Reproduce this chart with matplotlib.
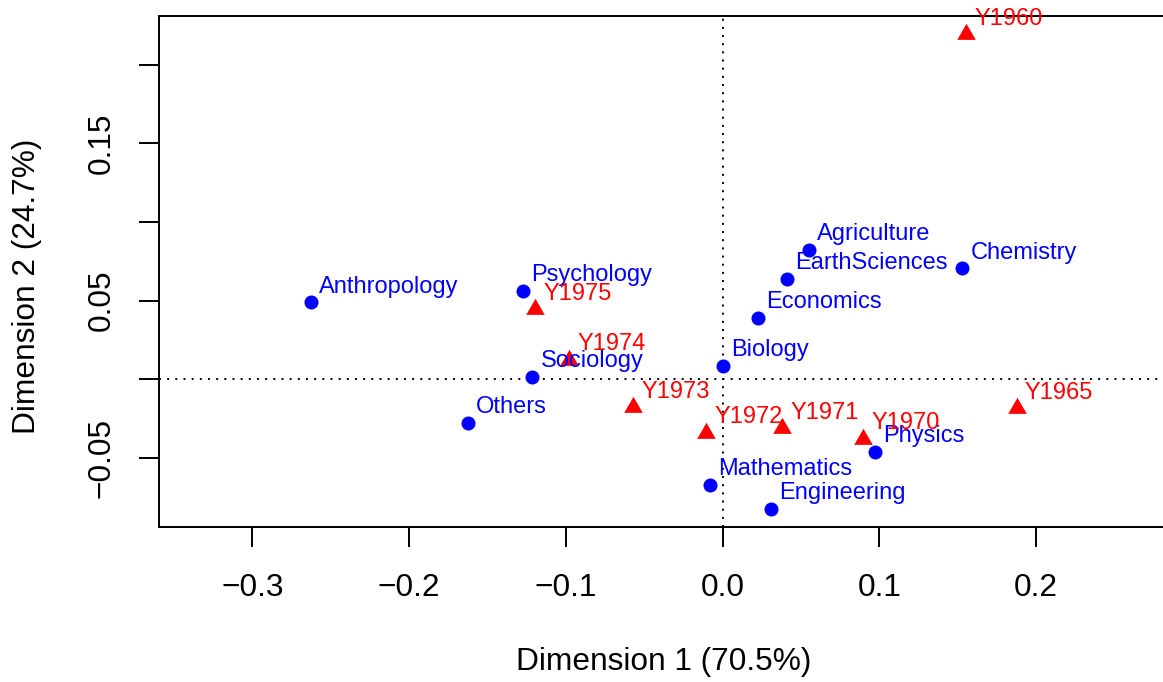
import matplotlib
matplotlib.use("Agg")
import matplotlib.pyplot as plt
import numpy as np

# Column (discipline) coordinates
col_names = ["Anthropology", "Psychology", "Sociology", "Others", "Biology",
             "Economics", "EarthSciences", "Agriculture", "Chemistry",
             "Physics", "Mathematics", "Engineering"]
col_x = [-0.2626, -0.1275, -0.1213, -0.1624, 0.0006, 0.0226, 0.0411, 0.0550,
         0.1530, 0.0972, -0.0077, 0.0309]
col_y = [0.0489, 0.0560, 0.0015, -0.0278, 0.0085, 0.0389, 0.0639, 0.0822,
         0.0705, -0.0462, -0.0675, -0.0827]

# Row (year) coordinates
row_names = ["Y1960", "Y1965", "Y1970", "Y1971", "Y1972", "Y1973", "Y1974", "Y1975"]
row_x = [0.1554, 0.1878, 0.0897, 0.0382, -0.0105, -0.0568, -0.0977, -0.1194]
row_y = [0.2194, -0.0186, -0.0378, -0.0314, -0.0340, -0.0180, 0.0124, 0.0444]

x_ticks = [-0.3, -0.2, -0.1, 0.0, 0.1, 0.2]
x_ticklabels = ["\u22120.3", "\u22120.2", "\u22120.1", "0.0", "0.1", "0.2"]
y_ticks = [-0.05, 0.0, 0.05, 0.10, 0.15, 0.20]
y_ticklabels = ["\u22120.05", "", "0.05", "", "0.15", ""]

xlab = "Dimension 1 (70.5%)"
ylab = "Dimension 2 (24.7%)"

plt.rcParams['font.family'] = ['Liberation Sans', 'DejaVu Sans']

W, H = 1163, 682
fig = plt.figure(figsize=(W / 100, H / 100), dpi=100)
ax = fig.add_axes([159 / W, 1 - 526.5 / H, (1168 - 159) / W, (526.5 - 16) / H])

ax.set_xlim(-0.3595, 0.2842)
ax.set_ylim(-0.0938, 0.2311)

ax.axhline(0, color='black', lw=1.4, ls=(0, (1, 3.2)), zorder=1)
ax.axvline(0, color='black', lw=1.4, ls=(0, (1, 3.2)), zorder=1)

ax.plot(col_x, col_y, 'o', color='#0000FF', ms=10.1, mec='none', zorder=3)

tri = [(0, 1.5551), (1.3468, -0.7776), (-1.3468, -0.7776), (0, 1.5551)]
ax.plot(row_x, row_y, linestyle='none', marker=tri, color='#FF0000', ms=15.4,
        mec='none', zorder=3)

lab_fs = 17
for n, x, y in zip(col_names, col_x, col_y):
    ax.annotate(n, (x, y), xytext=(5.8, 7.0), textcoords='offset points',
                ha='left', va='baseline', color='#0000FF', fontsize=lab_fs,
                annotation_clip=False, zorder=4)
for n, x, y in zip(row_names, row_x, row_y):
    ax.annotate(n, (x, y), xytext=(5.8, 7.0), textcoords='offset points',
                ha='left', va='baseline', color='#FF0000', fontsize=lab_fs,
                annotation_clip=False, zorder=4)

ax.set_xticks(x_ticks)
ax.set_xticklabels(x_ticklabels)
ax.set_yticks(y_ticks)
ax.set_yticklabels(y_ticklabels, rotation=90, va='center')

ax.tick_params(axis='both', direction='out', length=14.4, width=1.4,
               labelsize=22.8, color='black')
ax.tick_params(axis='x', pad=19)
ax.tick_params(axis='y', pad=16)
for lbl in ax.get_yticklabels():
    lbl.set_va('center')
    lbl.set_ha('right')

for s in ax.spines.values():
    s.set_linewidth(1.4)

fig.text(664 / W, 1 - 662 / H, xlab, ha='center', va='center', fontsize=22.8)
fig.text(27 / W, 1 - 286 / H, ylab, ha='center', va='center', fontsize=22.8,
         rotation=90)

fig.savefig("out.png", dpi=100)
